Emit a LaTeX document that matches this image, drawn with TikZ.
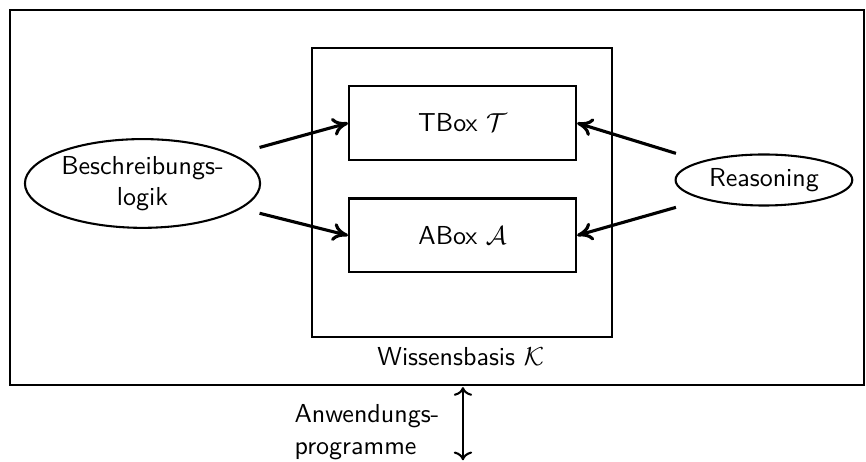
\documentclass[tikz,border=0pt]{standalone}
\usepackage{amssymb}
\usepackage{amsmath}
\usepackage{tikz}
\usetikzlibrary{shapes.geometric}
\usetikzlibrary{arrows}
\usetikzlibrary{arrows.meta}

\begin{document}
\begin{tikzpicture}[font=\sffamily]
	\useasboundingbox (0,0) rectangle (11.71,6.234);
	\draw[thick] (0.135,1.03) rectangle (11.68,6.10);
	\draw[thick] (4.22,1.677) rectangle (8.28,5.585);

	\node[draw,thick,minimum width=3.07cm,minimum height=1cm](tbox) at (6.255,4.57) {TBox $\mathcal{T}$};
	\node[draw,thick,minimum width=3.07cm,minimum height=1cm](abox) at (6.255,3.05) {ABox $\mathcal{A}$};
	\node(kb) at (6.23,1.41) {Wissensbasis $\mathcal{K}$};

	\node[ellipse,draw,thick,minimum width=3.18cm,minimum height=1.20cm,inner sep=0pt,align=center](dl) at (1.927,3.753) {Beschreibungs-\\logik};
	\node[ellipse,draw,thick,minimum width=2.39cm,minimum height=0.69cm,inner sep=0pt](reas) at (10.33,3.80) {Reasoning};
	\node[align=left,anchor=west](app) at (3.86,0.39) {Anwendungs-\\programme};

	\coordinate (dl1) at (3.51,4.24);
	\coordinate (dl2) at (3.51,3.35);
	\coordinate (re1) at (9.14,4.16);
	\coordinate (re2) at (9.14,3.43);
	\coordinate (ap1) at (6.26,1.00);
	\coordinate (ap2) at (6.26,0.01);

	\draw[very thick,-{To[length=6pt,width=7pt]}] (dl1) -- (tbox.west);
	\draw[very thick,-{To[length=6pt,width=7pt]}] (dl2) -- (abox.west);
	\draw[very thick,-{To[length=6pt,width=7pt]}] (re1) -- (tbox.east);
	\draw[very thick,-{To[length=6pt,width=7pt]}] (re2) -- (abox.east);
	\draw[thick,<->] (ap1) -- (ap2);
\end{tikzpicture}
\end{document}
